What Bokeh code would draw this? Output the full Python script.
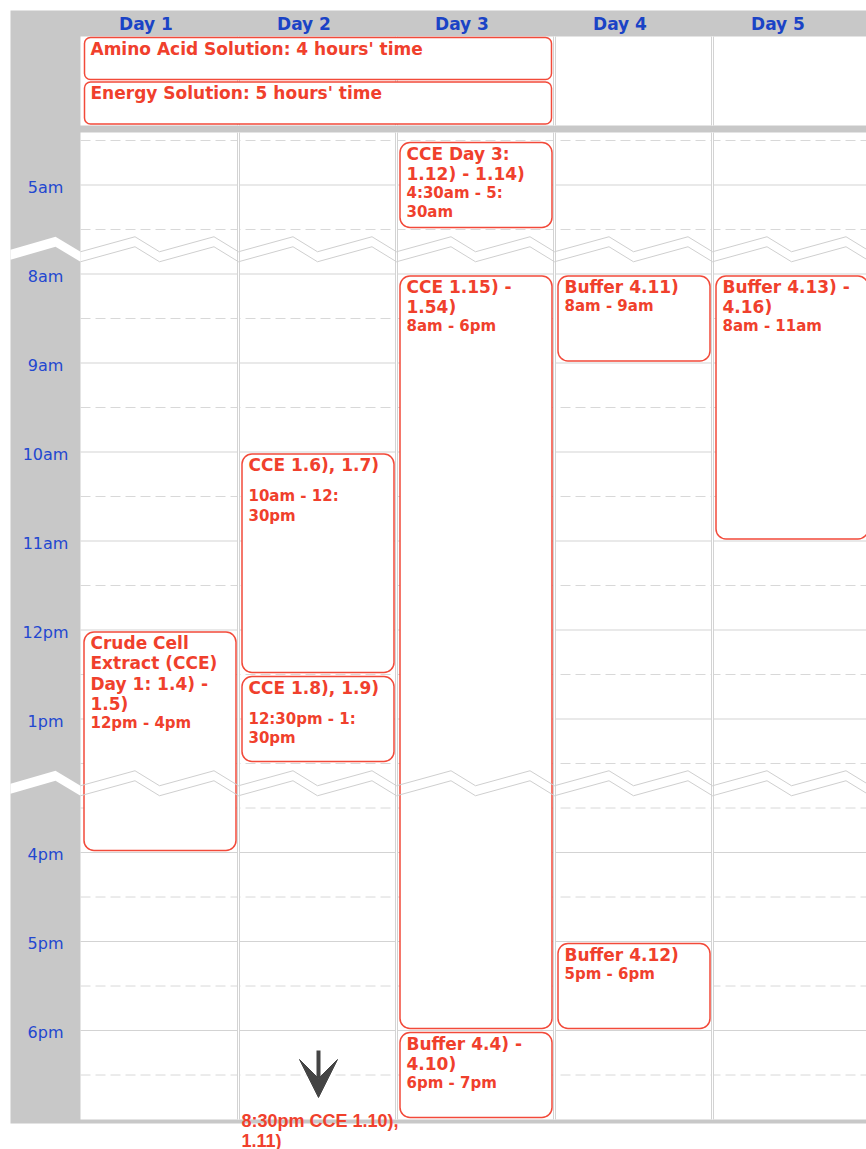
import numpy as np
from bokeh.plotting import figure
from bokeh.models import Range1d, BoxAnnotation, Arrow, VeeHead, ColumnDataSource
from bokeh.core.properties import value
from bokeh.embed import file_html
from bokeh.resources import INLINE

# ---------------- data ----------------
days = ["Day 1", "Day 2", "Day 3", "Day 4", "Day 5"]

# visible hour windows (24h clock); the hours between them are collapsed
section_start = [4.5, 8.0, 15.5]
section_end = [5.5, 13.5, 19.0]

hour_ticks = [5, 8, 9, 10, 11, 12, 13, 16, 17, 18]
hour_labels = ["5am", "8am", "9am", "10am", "11am", "12pm", "1pm", "4pm", "5pm", "6pm"]

# all-day events
allday_title = ["Amino Acid Solution: 4 hours' time", "Energy Solution: 5 hours' time"]
allday_first_day = [1, 1]
allday_last_day = [3, 3]

# timed events
ev_day = [3, 3, 4, 5, 2, 2, 1, 4, 3]
ev_start = [4.5, 8.0, 8.0, 8.0, 10.0, 12.5, 12.0, 17.0, 18.0]
ev_end = [5.5, 18.0, 9.0, 11.0, 12.5, 13.5, 16.0, 18.0, 19.0]
ev_title = [
    "CCE Day 3:\n1.12) - 1.14)",
    "CCE 1.15) -\n1.54)",
    "Buffer 4.11)",
    "Buffer 4.13) -\n4.16)",
    "CCE 1.6), 1.7)\n",
    "CCE 1.8), 1.9)\n",
    "Crude Cell\nExtract (CCE)\nDay 1: 1.4) -\n1.5)",
    "Buffer 4.12)",
    "Buffer 4.4) -\n4.10)",
]
ev_time = [
    "4:30am - 5:\n30am",
    "8am - 6pm",
    "8am - 9am",
    "8am - 11am",
    "10am - 12:\n30pm",
    "12:30pm - 1:\n30pm",
    "12pm - 4pm",
    "5pm - 6pm",
    "6pm - 7pm",
]

# events beyond the visible window
late_day = [2]
late_text = ["8:30pm CCE 1.10),\n1.11)"]

# ---------------- scales / style ----------------
W, H = 866, 1149
PXH = 89.0   # px per hour
PXD = 158.0  # px per day column
GAP = 0.5    # collapsed gap, in display hours

RED_TXT = "#f0402c"
RED_LINE = "#f24a3a"
BLUE_DAY = "#1a43c6"
BLUE_HR = "#2247d0"
GRAY = "#c8c8c8"
GRID = "#d3d3d3"
DASH = "#d8d8d8"


def disp(h):
    pos = 0.0
    for a, b in zip(section_start, section_end):
        if h <= b:
            return pos + max(h - a, 0.0)
        pos += (b - a) + GAP
    return pos - GAP


y_grid_top = -8 / PXH
y_grid_bot = disp(section_end[-1])
y_allday_bot = y_grid_top - 7 / PXH
y_allday_top = y_allday_bot - 89 / PXH
y_panel_top = y_allday_top - 26 / PXH
y_fig_top = y_panel_top - 10 / PXH
y_fig_bot = y_fig_top + H / PXH
y_panel_bot = y_grid_bot + 4 / PXH

x_panel_left = -70 / PXD
x_fig_left = x_panel_left - 10 / PXD
x_fig_right = x_fig_left + W / PXD
x_far = x_fig_right + 1

p = figure(width=W, height=H, output_backend="svg", toolbar_location=None,
           x_range=Range1d(x_fig_left, x_fig_right),
           y_range=Range1d(y_fig_bot, y_fig_top),
           x_axis_type=None, y_axis_type=None, min_border=0,
           background_fill_color="white", border_fill_color="white",
           outline_line_color=None)
p.xgrid.visible = False
p.ygrid.visible = False

# panel background
p.quad(left=[x_panel_left], right=[x_far], top=[y_panel_top], bottom=[y_panel_bot],
       fill_color=GRAY, line_color=None)
p.quad(left=[0, 0], right=[x_far, x_far], top=[y_allday_top, y_grid_top],
       bottom=[y_allday_bot, y_grid_bot], fill_color="white", line_color=None)

# horizontal grid lines
solid_y, dash_y = [], []
for i, (a, b) in enumerate(zip(section_start, section_end)):
    for t in np.arange(a, b + 0.01, 0.5):
        if i == len(section_start) - 1 and t >= b:
            continue
        (solid_y if float(t).is_integer() else dash_y).append(disp(t))
p.segment(x0=[0] * len(solid_y), x1=[x_far] * len(solid_y), y0=solid_y, y1=solid_y,
          line_color=GRID, line_width=1)
p.segment(x0=[0] * len(dash_y), x1=[x_far] * len(dash_y), y0=dash_y, y1=dash_y,
          line_color=DASH, line_width=1, line_dash="10 5")

# vertical (double) column lines
cols = list(range(1, len(days) + 1))
for (t0, t1) in [(y_allday_top, y_allday_bot), (y_grid_top, y_grid_bot)]:
    p.segment(x0=cols, x1=cols, y0=[t0] * len(cols), y1=[t1] * len(cols),
              line_color=GRID, line_width=3)
    p.segment(x0=cols, x1=cols, y0=[t0] * len(cols), y1=[t1] * len(cols),
              line_color="white", line_width=1)

# collapsed-time break markers
AMP = 15 / PXH
SEP = 10 / PXH
PEAK = 0.345
for i in range(len(section_start) - 1):
    c = disp(section_end[i]) + GAP / 2
    gx = [x_panel_left, -25 / PXD, 0, 0, -25 / PXD, x_panel_left]
    gy = [c - 2 / PXH, c - AMP, c, c + SEP, c - AMP + SEP, c - 2 / PXH + SEP]
    p.patch(gx, gy, fill_color="white", line_color=None)
    xs, ys = [], []
    for k in range(0, 12):
        xs += [0.5 * k, 0.5 * k + PEAK]
        ys += [c, c - AMP]
    p.line(xs, ys, line_color="#cfcfcf", line_width=1, level="overlay")
    p.line(xs, [y + SEP for y in ys], line_color="#cfcfcf", line_width=1, level="overlay")

# all-day boxes
for slot, (t, d0, d1) in enumerate(zip(allday_title, allday_first_day, allday_last_day)):
    top = y_allday_top + (slot * 44.5 + 1) / PXH
    p.add_layout(BoxAnnotation(left=d0 - 1 + 4 / PXD, right=d1 - 3 / PXD,
                               top=top, bottom=top + 42 / PXH,
                               fill_color="white", fill_alpha=1, line_color=RED_LINE,
                               line_alpha=1, line_width=1.5, border_radius=6))
allday_src = ColumnDataSource(dict(
    x=[d - 1 + 10 / PXD for d in allday_first_day],
    y=[y_allday_top + (s * 44.5 + 1) / PXH for s in range(len(allday_title))],
    text=allday_title))
p.text(x="x", y="y", text="text", source=allday_src, y_offset=1,
       text_font=value("DejaVu Sans"), text_font_style="bold", text_font_size="17px",
       text_color=RED_TXT, text_align="left", text_baseline="top", level="overlay")

# timed boxes
tx, ty, ttext, toff = [], [], [], []
mx, my, mtext, moff = [], [], [], []
for d, s, e, title, tm in zip(ev_day, ev_start, ev_end, ev_title, ev_time):
    top = disp(s) + 2 / PXH
    bot = disp(e) - 2 / PXH
    p.add_layout(BoxAnnotation(left=d - 1 + 3.5 / PXD, right=d - 2.5 / PXD,
                               top=top, bottom=bot,
                               fill_color="white", fill_alpha=1, line_color=RED_LINE,
                               line_alpha=1, line_width=1.5, border_radius=10))
    blank = title.endswith("\n")
    t = title.rstrip("\n")
    n = t.count("\n") + 1
    tx.append(d - 1 + 10 / PXD); ty.append(top); ttext.append(t); toff.append(1)
    mx.append(d - 1 + 10 / PXD); my.append(top); mtext.append(tm)
    moff.append(1 + n * 20.2 + (12 if blank else 0))

p.text(x="x", y="y", text="text", y_offset="o",
       source=ColumnDataSource(dict(x=tx, y=ty, text=ttext, o=toff)),
       text_font=value("DejaVu Sans"), text_font_style="bold", text_font_size="17px",
       text_line_height=1.02, text_color=RED_TXT, text_align="left",
       text_baseline="top", level="overlay")
p.text(x="x", y="y", text="text", y_offset="o",
       source=ColumnDataSource(dict(x=mx, y=my, text=mtext, o=moff)),
       text_font=value("DejaVu Sans"), text_font_style="bold", text_font_size="15px",
       text_line_height=1.08, text_color=RED_TXT, text_align="left",
       text_baseline="top", level="overlay")

# day header labels
p.text(x=[k - 0.5 - 13.5 / PXD for k in cols], y=[(y_panel_top + y_allday_top) / 2] * len(days),
       text=days, text_font=value("DejaVu Sans"), text_font_style="bold",
       text_font_size="17px", text_color=BLUE_DAY, text_align="center",
       text_baseline="middle", level="overlay")

# hour labels
p.text(x=[x_panel_left / 2] * len(hour_ticks), y=[disp(h) for h in hour_ticks],
       text=hour_labels, y_offset=2, text_font=value("DejaVu Sans"),
       text_font_size="16px", text_color=BLUE_HR, text_align="center",
       text_baseline="middle", level="overlay")

# late events: arrow + label
for d in late_day:
    p.add_layout(Arrow(end=VeeHead(size=38, fill_color="#444444", line_color="#444444"),
                       x_start=d - 0.5 + 1 / PXD, x_end=d - 0.5 + 1 / PXD,
                       y_start=y_grid_bot - 69 / PXH, y_end=y_grid_bot - 22 / PXH,
                       line_color="#444444", line_width=4))
p.text(x=[d - 1 + 3 / PXD for d in late_day], y=[y_grid_bot] * len(late_day),
       text=late_text, y_offset=-9, text_font=value("Liberation Sans"),
       text_font_style="bold", text_font_size="18px", text_line_height=1.0,
       text_color=RED_TXT, text_align="left", text_baseline="top", level="overlay")

open("out.html", "w").write(file_html(p, INLINE))
